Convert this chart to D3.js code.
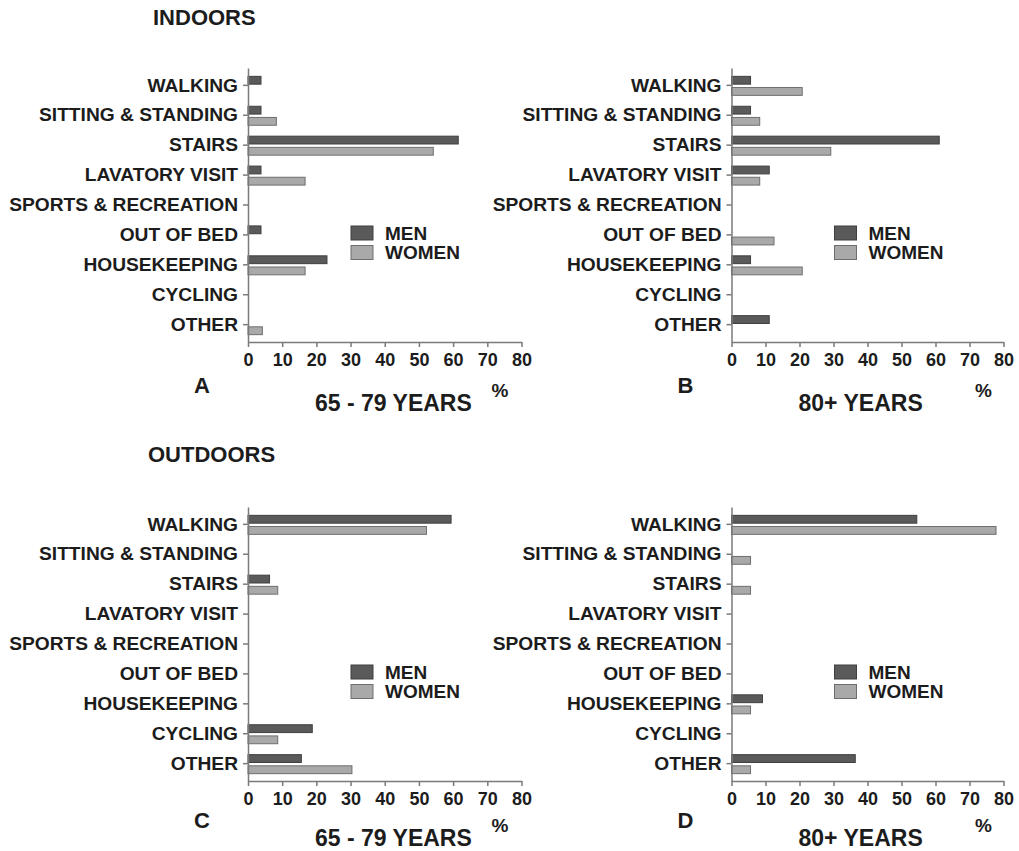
<!DOCTYPE html>
<html>
<head>
<meta charset="utf-8">
<script src="https://cdn.jsdelivr.net/npm/d3@7"></script>
<style>
  html, body { margin: 0; padding: 0; background: #fff; }
  svg { display: block; }
  text { font-family: "Liberation Sans", Arial, sans-serif; font-weight: bold; fill: #1c1c1c; }
</style>
</head>
<body>
<svg id="chart" width="1019" height="851"></svg>
<script>
// ---- data ----
const categories = ["WALKING", "SITTING & STANDING", "STAIRS", "LAVATORY VISIT",
  "SPORTS & RECREATION", "OUT OF BED", "HOUSEKEEPING", "CYCLING", "OTHER"];
const seriesNames = ["MEN", "WOMEN"];
const xTicks = [0, 10, 20, 30, 40, 50, 60, 70, 80];

const indoorYoungMen   = [3.8, 3.8, 61.5, 3.8, 0, 3.8, 23.1, 0, 0];
const indoorYoungWomen = [0, 8.3, 54.2, 16.7, 0, 0, 16.7, 0, 4.2];
const indoorOldMen     = [5.6, 5.6, 61.1, 11.1, 0, 0, 5.6, 0, 11.1];
const indoorOldWomen   = [20.8, 8.3, 29.2, 8.3, 0, 12.5, 20.8, 0, 0];
const outdoorYoungMen   = [59.4, 0, 6.3, 0, 0, 0, 0, 18.8, 15.6];
const outdoorYoungWomen = [52.2, 0, 8.7, 0, 0, 0, 0, 8.7, 30.4];
const outdoorOldMen     = [54.5, 0, 0, 0, 0, 0, 9.1, 0, 36.4];
const outdoorOldWomen   = [77.8, 5.6, 5.6, 0, 0, 0, 5.6, 0, 5.6];

const sectionTitles = ["INDOORS", "OUTDOORS"];
const panelLetters = ["A", "B", "C", "D"];
const ageGroups = ["65 - 79 YEARS", "80+ YEARS"];
const unitLabel = "%";

// ---- layout ----
const svg = d3.select("#chart");
const colors = { MEN: "#5a5a5a", WOMEN: "#a9a9a9" };
const strokes = { MEN: "#3f3f3f", WOMEN: "#6e6e6e" };
const axisColor = "#7a7a7a";

const panels = [
  { letter: panelLetters[0], age: ageGroups[0], men: indoorYoungMen, women: indoorYoungWomen, x0: 248, x1: 521.5, top: 68, bottom: 342, shift: 0 },
  { letter: panelLetters[1], age: ageGroups[1], men: indoorOldMen, women: indoorOldWomen, x0: 731.5, x1: 1003.5, top: 68, bottom: 342, shift: 0 },
  { letter: panelLetters[2], age: ageGroups[0], men: outdoorYoungMen, women: outdoorYoungWomen, x0: 248, x1: 521.5, top: 507, bottom: 781, shift: -4 },
  { letter: panelLetters[3], age: ageGroups[1], men: outdoorOldMen, women: outdoorOldWomen, x0: 731.5, x1: 1003.5, top: 507, bottom: 781, shift: -4 }
];

svg.append("text").attr("x", 153).attr("y", 25).style("font-size", "22px").text(sectionTitles[0]);
svg.append("text").attr("x", 148).attr("y", 462).style("font-size", "22px").text(sectionTitles[1]);

panels.forEach(p => {
  const g = svg.append("g");
  const x = d3.scaleLinear().domain([0, 80]).range([p.x0, p.x1]);
  const y = d3.scaleBand().domain(categories).range([p.top, p.bottom]).paddingInner(0).paddingOuter(0.08);
  const sub = d3.scaleBand().domain(seriesNames).range([-9.5, 9.5]).paddingInner(0.3);

  // bars
  const rows = [];
  categories.forEach((c, i) => {
    rows.push({ cat: c, s: "MEN", v: p.men[i] });
    rows.push({ cat: c, s: "WOMEN", v: p.women[i] });
  });
  g.selectAll("rect.bar").data(rows.filter(d => d.v > 0)).join("rect")
    .attr("class", "bar")
    .attr("x", x(0))
    .attr("y", d => y(d.cat) + y.bandwidth() / 2 + sub(d.s) + 0.5)
    .attr("width", d => x(d.v) - x(0))
    .attr("height", sub.bandwidth())
    .attr("fill", d => colors[d.s])
    .attr("stroke", d => strokes[d.s])
    .attr("stroke-width", 1);

  // y axis
  const ya = g.append("g").attr("transform", `translate(${p.x0},0)`)
    .call(d3.axisLeft(y).tickSize(5).tickSizeOuter(0).tickPadding(5));
  ya.selectAll("text").style("font-size", "19.2px").attr("fill", "#1c1c1c");

  // x axis
  const xa = g.append("g").attr("transform", `translate(0,${p.bottom})`)
    .call(d3.axisBottom(x).tickValues(xTicks).tickSize(5).tickSizeOuter(0).tickPadding(6));
  xa.selectAll("text").style("font-size", "18px").attr("fill", "#1c1c1c");

  [ya, xa].forEach(a => {
    a.selectAll("path, line").attr("stroke", axisColor).attr("stroke-width", 1.5);
    a.selectAll("text").style("font-family", "'Liberation Sans', Arial, sans-serif").style("font-weight", "bold");
  });

  // legend
  const lg = g.append("g").attr("transform", `translate(${p.x0 + 103},${p.top + 158})`);
  seriesNames.forEach((s, i) => {
    lg.append("rect").attr("x", 0).attr("y", i * 19.5).attr("width", 22).attr("height", 14)
      .attr("fill", colors[s]).attr("stroke", strokes[s]).attr("stroke-width", 1);
    lg.append("text").attr("x", 34).attr("y", i * 19.5 + 7).attr("dy", "0.36em")
      .style("font-size", "19px").text(s);
  });

  // panel letter, unit, age group
  g.append("text").attr("x", p.x0 - 46).attr("y", p.bottom + 51 + p.shift).attr("text-anchor", "middle")
    .style("font-size", "22px").text(p.letter);
  g.append("text").attr("x", p.x0 + 252).attr("y", p.bottom + 55 + p.shift).attr("text-anchor", "middle")
    .style("font-size", "19px").text(unitLabel);
  g.append("text").attr("x", p.x0 + 67).attr("y", p.bottom + 69 + p.shift)
    .style("font-size", "23px").text(p.age);
});
</script>
</body>
</html>
